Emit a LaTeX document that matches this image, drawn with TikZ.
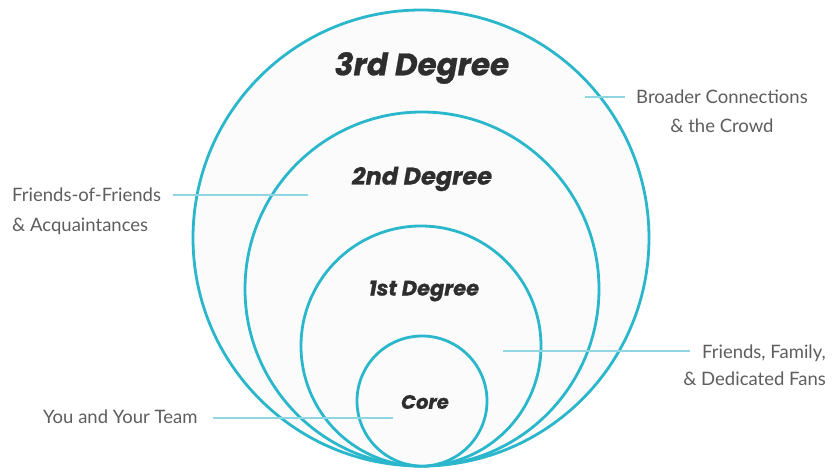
\documentclass[tikz,border=0pt]{standalone}
\usepackage{fontspec}
\setmainfont{Lato}
\newfontfamily\titlefont{Poppins}[FakeBold=0.8]
\definecolor{ringc}{HTML}{2BB7CB}
\definecolor{leadc}{HTML}{8FD6E0}
\definecolor{labc}{HTML}{5E5E5E}
\definecolor{titc}{HTML}{2E2E2E}
\definecolor{fillc}{HTML}{FBFBFB}
\tikzset{
  ring/.style={draw=ringc, line width=2.8pt, fill=fillc},
  lead/.style={draw=leadc, line width=1.1pt},
  lab/.style={text=labc, inner sep=0pt},
  tit/.style={text=titc, inner sep=0pt},
}
\begin{document}
\begin{tikzpicture}[x=1pt,y=-1pt]
\useasboundingbox (0,0) rectangle (838,470);
\path[fill=white] (0,0) rectangle (838,470);
% rings
\draw[ring] (421,238) circle[radius=228pt];
\draw[ring] (422,289) circle[radius=177pt];
\draw[ring] (421,346) circle[radius=120pt];
\draw[ring] (422,401) circle[radius=65pt];
% titles
\node[tit, font=\titlefont\bfseries\itshape\fontsize{31}{33}\selectfont] (t3) at (422,68) {3rd Degree};
\node[tit, font=\titlefont\bfseries\itshape\fontsize{24}{26}\selectfont] (t2) at (422,179) {2nd Degree};
\node[tit, font=\titlefont\bfseries\itshape\fontsize{21}{23}\selectfont] (t1) at (424,291) {1st Degree};
\node[tit, font=\titlefont\bfseries\itshape\fontsize{19.5}{22}\selectfont] (t0) at (425,402) {Core};
% labels
\node[lab, font=\fontsize{18.5}{29}\selectfont, align=center, anchor=north] (l3) at (722,90) {Broader Connections\\\& the Crowd};
\node[lab, font=\fontsize{18.5}{30}\selectfont, align=left, anchor=north west] (l2) at (12,188) {Friends-of-Friends\\\& Acquaintances};
\node[lab, font=\fontsize{18.5}{27}\selectfont, align=right, anchor=north east] (l1) at (826,345) {Friends, Family,\\\& Dedicated Fans};
\node[lab, font=\fontsize{18.5}{27}\selectfont, anchor=west] (l0) at (43,417) {You and Your Team};
% leader lines
\coordinate (a3) at (585,97);  \coordinate (b3) at (625,97);
\coordinate (a2) at (173,195); \coordinate (b2) at (308,195);
\coordinate (a1) at (503,351); \coordinate (b1) at (690,351);
\coordinate (a0) at (213,418); \coordinate (b0) at (393,418);
\draw[lead] (a3) -- (b3);
\draw[lead] (a2) -- (b2);
\draw[lead] (a1) -- (b1);
\draw[lead] (a0) -- (b0);
\end{tikzpicture}
\end{document}
